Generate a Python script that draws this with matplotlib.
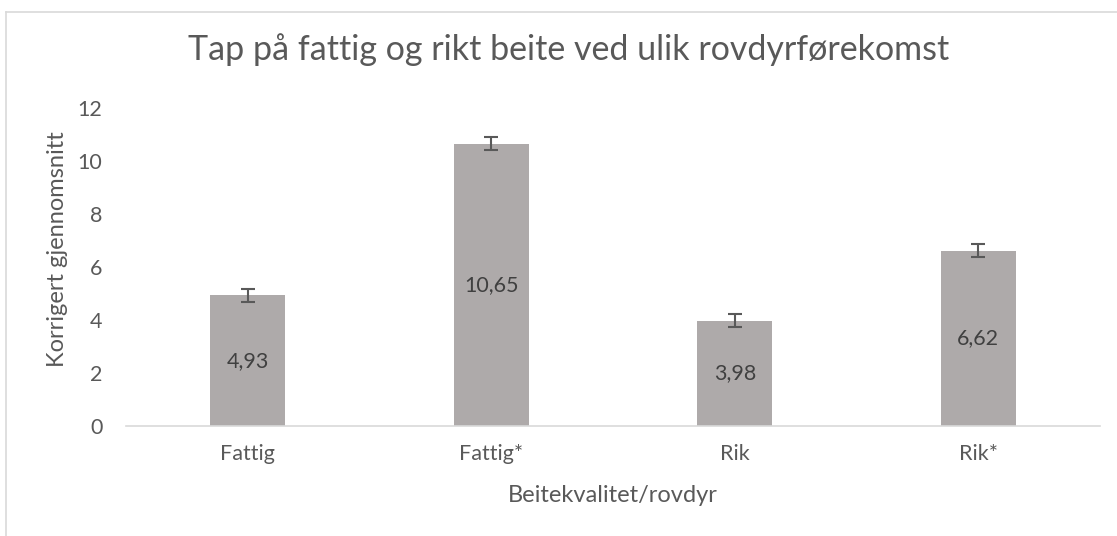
import matplotlib.pyplot as plt
import numpy as np

# data
categories = ['Fattig', 'Fattig*', 'Rik', 'Rik*']
means = [4.93, 10.65, 3.98, 6.62]
errors = [0.25, 0.25, 0.25, 0.24]
value_labels = ['4,93', '10,65', '3,98', '6,62']

plt.rcParams['font.family'] = ['Lato', 'DejaVu Sans']

fig = plt.figure(figsize=(11.17, 5.36), dpi=100)
ax = fig.add_axes([126 / 1117, 110 / 536, (1100 - 126) / 1117, (426 - 108) / 536])

x = np.arange(len(categories))
ax.bar(x, means, width=0.31, color='#AEAAAA', zorder=2)
ax.errorbar(x, means, yerr=errors, fmt='none', ecolor='#595959',
            elinewidth=1.5, capsize=5, capthick=1.5, zorder=3)

for xi, m, lab in zip(x, means, value_labels):
    ax.text(xi, m / 2, lab, ha='center', va='center', fontsize=15.5, color='#404040')

ax.set_xlim(-0.5, len(categories) - 0.5)
ax.set_ylim(0, 12)
ax.set_yticks(range(0, 13, 2))
ax.set_xticks(x)
ax.set_xticklabels(categories)
ax.tick_params(axis='both', length=0, labelsize=15.5, colors='#595959')
ax.tick_params(axis='x', pad=13)
ax.tick_params(axis='y', pad=17)

for s in ['top', 'right', 'left']:
    ax.spines[s].set_visible(False)
ax.spines['bottom'].set_color('#D9D9D9')
ax.spines['bottom'].set_linewidth(1.2)

ax.text(0.5, (426 - 495) / 318, 'Beitekvalitet/rovdyr', transform=ax.transAxes,
        ha='center', va='center', fontsize=17, color='#595959')
ax.text((57 - 126) / 974, (426 - 249) / 318, 'Korrigert gjennomsnitt', transform=ax.transAxes,
        ha='center', va='center', rotation=90, fontsize=17, color='#595959')

fig.text(0.509, 1 - 50 / 536, 'Tap på fattig og rikt beite ved ulik rovdyrførekomst',
         ha='center', va='center', fontsize=24.5, color='#595959')

# outer chart frame (only top and left visible)
fig.add_artist(plt.Line2D([6 / 1117, 1], [1 - 12 / 536, 1 - 12 / 536],
                          transform=fig.transFigure, color='#D9D9D9', lw=1.2))
fig.add_artist(plt.Line2D([6 / 1117, 6 / 1117], [0, 1 - 12 / 536],
                          transform=fig.transFigure, color='#D9D9D9', lw=1.2))

fig.savefig('out.png', dpi=100)
